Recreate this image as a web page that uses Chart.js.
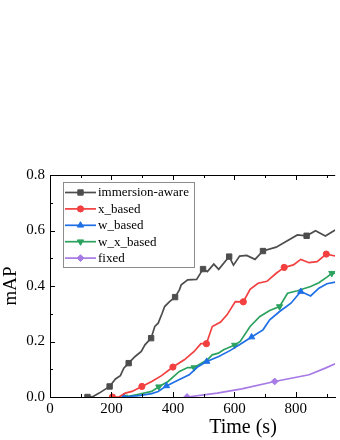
<!DOCTYPE html>
<html>
<head>
<meta charset="utf-8">
<script src="https://cdn.jsdelivr.net/npm/chart.js"></script>
<style>
  html, body { margin: 0; padding: 0; background: #fff; overflow: hidden; }
  #wrap { width: 340px; height: 440px; }
</style>
</head>
<body>
<div id="wrap"><canvas id="myChart" width="340" height="440"></canvas></div>
<script>
const labels = ["immersion-aware", "x_based", "w_based", "w_x_based", "fixed"];
const colors = ["#4d4d4d", "#f23f3f", "#1f6fe6", "#2ca25f", "#a77ae6"];

const awareX = [122, 139, 160, 194, 213, 229, 240, 256, 277, 297, 309, 329, 341, 352, 365, 373, 389, 407, 421, 427, 448, 477, 498, 512, 533, 549, 583, 597, 617, 640, 667, 693, 736, 768, 805, 835, 864, 896, 928];
const awareY = [0, 0.001, 0.014, 0.038, 0.065, 0.077, 0.104, 0.122, 0.146, 0.164, 0.188, 0.212, 0.254, 0.266, 0.302, 0.326, 0.344, 0.36, 0.386, 0.404, 0.422, 0.424, 0.461, 0.452, 0.479, 0.46, 0.506, 0.475, 0.508, 0.51, 0.496, 0.526, 0.54, 0.56, 0.584, 0.581, 0.599, 0.58, 0.602];
const awareMarks = [0, 3, 7, 11, 17, 22, 26, 31, 35];

const xBasedX = [203, 224, 245, 267, 299, 331, 363, 400, 437, 469, 491, 509, 528, 555, 576, 603, 629, 651, 677, 706, 736, 762, 792, 816, 843, 869, 899, 928];
const xBasedY = [0, 0, 0.014, 0.02, 0.038, 0.056, 0.077, 0.108, 0.134, 0.164, 0.192, 0.192, 0.254, 0.27, 0.296, 0.344, 0.343, 0.388, 0.41, 0.417, 0.446, 0.467, 0.476, 0.496, 0.484, 0.488, 0.515, 0.508];
const xBasedMarks = [0, 4, 7, 11, 16, 21, 26];

const wBasedX = [240, 288, 331, 352, 379, 416, 453, 480, 510, 549, 587, 619, 656, 693, 715, 747, 784, 816, 848, 875, 901, 928];
const wBasedY = [0, 0.005, 0.012, 0.02, 0.04, 0.06, 0.08, 0.108, 0.128, 0.146, 0.168, 0.19, 0.216, 0.242, 0.278, 0.308, 0.338, 0.38, 0.364, 0.392, 0.408, 0.414];
const wBasedMarks = [0, 4, 8, 12, 17];

const wxBasedX = [243, 288, 331, 354, 384, 421, 448, 469, 512, 528, 548, 565, 601, 619, 651, 683, 715, 747, 773, 805, 848, 875, 901, 917, 928];
const wxBasedY = [0, 0.01, 0.02, 0.037, 0.056, 0.092, 0.106, 0.106, 0.134, 0.152, 0.158, 0.17, 0.187, 0.2, 0.254, 0.29, 0.312, 0.326, 0.374, 0.383, 0.398, 0.412, 0.432, 0.446, 0.446];
const wxBasedMarks = [0, 3, 7, 12, 17, 23];

const fixedX = [446, 544, 624, 731, 843, 896, 928];
const fixedY = [0, 0.014, 0.029, 0.056, 0.08, 0.104, 0.12];
const fixedMarks = [0, 3];

const xTicks = [0, 200, 400, 600, 800];
const yTicks = [0, 0.2, 0.4, 0.6, 0.8];

const serif = "'Liberation Serif', 'Times New Roman', serif";

const series = [
  { xs: awareX, ys: awareY, marks: awareMarks, style: "rect", radius: 3.8, rot: 0 },
  { xs: xBasedX, ys: xBasedY, marks: xBasedMarks, style: "circle", radius: 3.1, rot: 0 },
  { xs: wBasedX, ys: wBasedY, marks: wBasedMarks, style: "triangle", radius: 3.6, rot: 0 },
  { xs: wxBasedX, ys: wxBasedY, marks: wxBasedMarks, style: "triangle", radius: 3.6, rot: 180 },
  { xs: fixedX, ys: fixedY, marks: fixedMarks, style: "rectRot", radius: 3.4, rot: 0 },
];

const datasets = series.map((s, i) => ({
  label: labels[i],
  data: s.xs.map((x, j) => ({ x, y: s.ys[j] })),
  borderColor: colors[i],
  backgroundColor: colors[i],
  borderWidth: 1.7,
  pointStyle: s.style,
  pointRotation: s.rot,
  pointBorderWidth: 1,
  pointRadius: (c) => (s.marks.includes(c.dataIndex) ? s.radius : 0),
  pointHoverRadius: 0,
  tension: 0,
}));

// inward ticks on all four sides, plus the top frame line
const frame = {
  id: "frame",
  afterDatasetsDraw(chart) {
    const { ctx, chartArea: a, scales } = chart;
    ctx.save();
    ctx.strokeStyle = "#000";
    ctx.lineWidth = 1;
    ctx.beginPath();
    ctx.moveTo(a.left, a.top + 0.5);
    ctx.lineTo(a.right, a.top + 0.5);
    for (let v = 0; v <= scales.x.max; v += 100) {
      const px = Math.round(scales.x.getPixelForValue(v)) + 0.5;
      const len = v % 200 === 0 ? 5 : 3;
      ctx.moveTo(px, a.bottom);
      ctx.lineTo(px, a.bottom - len);
      ctx.moveTo(px, a.top);
      ctx.lineTo(px, a.top + len);
    }
    for (let k = 0; k <= 8; k++) {
      const py = Math.round(scales.y.getPixelForValue(k / 10)) + 0.5;
      const len = k % 2 === 0 ? 5 : 3;
      ctx.moveTo(a.left, py);
      ctx.lineTo(a.left + len, py);
    }
    ctx.stroke();

    // x axis title, centred where the uncropped figure had it
    ctx.fillStyle = "#000";
    ctx.font = "20px " + serif;
    ctx.textAlign = "center";
    ctx.textBaseline = "alphabetic";
    ctx.fillText("Time (s)", 243, 433);
    ctx.restore();
  },
};

// legend box in the upper left of the plot
const legendBox = {
  id: "legendBox",
  afterDraw(chart) {
    const { ctx } = chart;
    const left = 63, top = 182, w = 131, h = 85, row = 16.4;
    ctx.save();
    ctx.strokeStyle = "#8c8c8c";
    ctx.lineWidth = 1;
    ctx.strokeRect(left + 0.5, top + 0.5, w, h);
    ctx.font = "13px " + serif;
    ctx.textBaseline = "middle";
    ctx.textAlign = "left";
    chart.data.datasets.forEach((ds, i) => {
      const y = top + 10.5 + i * row;
      ctx.strokeStyle = ds.borderColor;
      ctx.lineWidth = 1.7;
      ctx.beginPath();
      ctx.moveTo(left + 2, y);
      ctx.lineTo(left + 33, y);
      ctx.stroke();
      ctx.fillStyle = ds.borderColor;
      ctx.lineWidth = 1;
      Chart.helpers.drawPoint(ctx, {
        pointStyle: ds.pointStyle,
        rotation: ds.pointRotation,
        radius: series[i].radius,
        borderWidth: 1,
      }, left + 17.5, y);
      ctx.fillStyle = "#000";
      ctx.fillText(ds.label, left + 35, y + 0.5);
    });
    ctx.restore();
  },
};

new Chart(document.getElementById("myChart"), {
  type: "line",
  data: { datasets },
  plugins: [frame, legendBox],
  options: {
    responsive: false,
    animation: false,
    events: [],
    layout: { padding: { top: 175, right: 0, left: 0, bottom: 0 } },
    plugins: { legend: { display: false }, tooltip: { enabled: false } },
    scales: {
      x: {
        type: "linear",
        min: 0,
        max: 928,
        afterFit: (s) => { s.height = 43; s.paddingLeft = 0; s.paddingRight = 0; },
        afterBuildTicks: (s) => { s.ticks = xTicks.map((v) => ({ value: v })); },
        grid: { drawOnChartArea: false, drawTicks: false },
        border: { display: true, color: "#000", width: 1 },
        ticks: { color: "#000", padding: 3, font: { family: serif, size: 15 }, maxRotation: 0 },
      },
      y: {
        min: 0,
        max: 0.8,
        afterFit: (s) => { s.width = 50; s.paddingTop = 0; s.paddingBottom = 0; },
        afterBuildTicks: (s) => { s.ticks = yTicks.map((v) => ({ value: v })); },
        grid: { drawOnChartArea: false, drawTicks: false },
        border: { display: true, color: "#000", width: 1 },
        ticks: { color: "#000", padding: 5, font: { family: serif, size: 15 }, callback: (v) => v.toFixed(1) },
        title: { display: true, text: "mAP", color: "#000", font: { family: serif, size: 19 }, padding: 0 },
      },
    },
  },
});
</script>
</body>
</html>
